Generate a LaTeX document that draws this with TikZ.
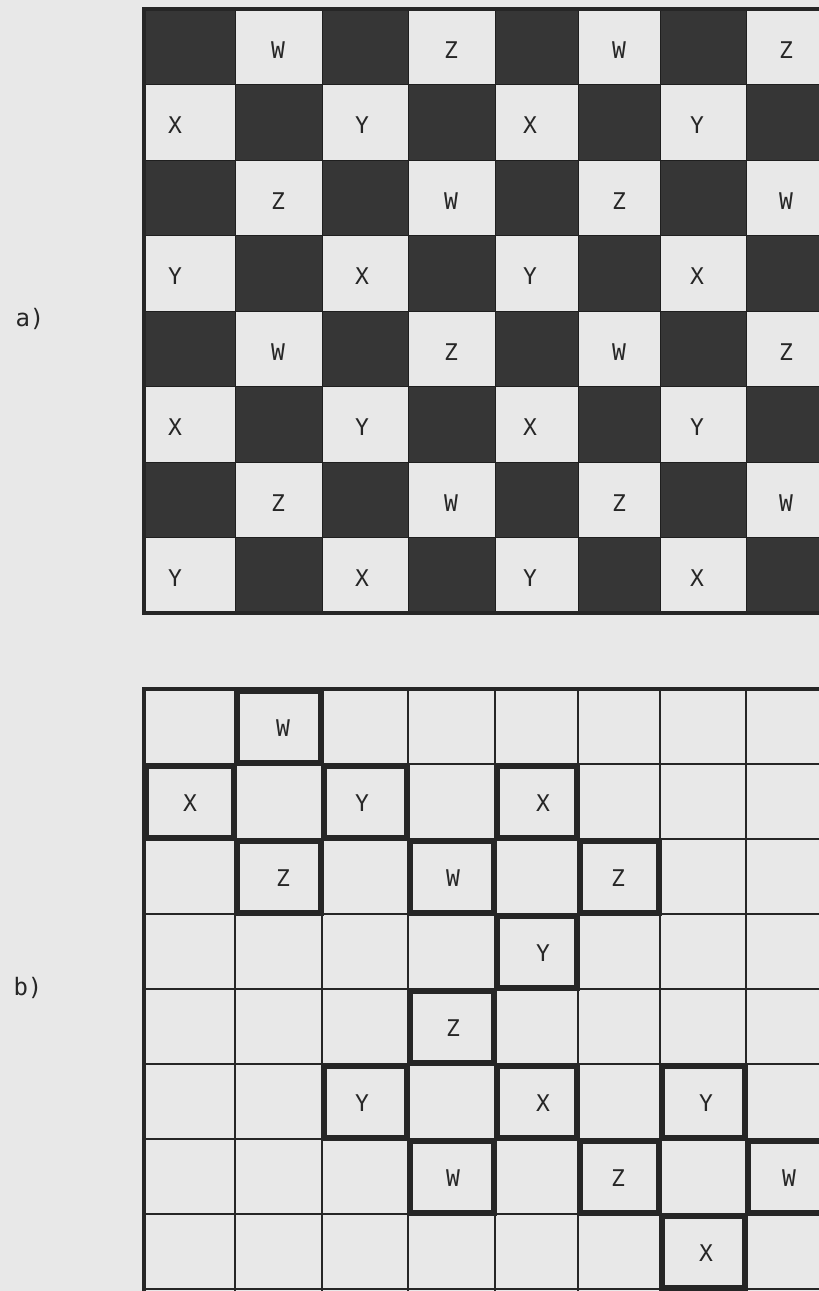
\documentclass[tikz,border=0pt]{standalone}
\usepackage{fontspec}
\newfontfamily\plotfont{DejaVu Sans Mono}
\begin{document}
\begin{tikzpicture}[x=1pt,y=-1pt,
  darkcell/.style={fill=black!79, draw=black!88, line width=1pt},
  letter/.style={font=\plotfont\fontsize{23}{23}\selectfont, text=black!85, inner sep=0pt},
  partlabel/.style={font=\plotfont\fontsize{24}{24}\selectfont, text=black!85, inner sep=0pt},
  gridline/.style={draw=black!85, line width=2.9pt},
  outerline/.style={draw=black!85, line width=3.4pt},
  keycell/.style={draw=black!85, line width=6pt}]
\fill[black!9] (0,0) rectangle (819,1291);
\useasboundingbox (0,0) rectangle (819,1291);
\clip (0,0) rectangle (819,1291);

% ---------- part a) ----------
\foreach \r in {0,...,7} {
  \foreach \c/\xl/\xr in {0/144/235,1/235/322,2/322/408,3/408/495,4/495/578,5/578/660,6/660/746,7/746/832} {
    \pgfmathtruncatemacro{\p}{mod(\r+\c,2)}
    \ifnum\p=0
      \fill[darkcell] (\xl,{9+75.5*\r}) rectangle (\xr,{9+75.5*(\r+1)});
    \fi
  }
}
\draw[outerline] (840,9) -- (144,9) -- (144,613) -- (840,613);

\foreach \r/\c/\t in {0/1/W,0/3/Z,0/5/W,0/7/Z,
                      1/0/X,1/2/Y,1/4/X,1/6/Y,
                      2/1/Z,2/3/W,2/5/Z,2/7/W,
                      3/0/Y,3/2/X,3/4/Y,3/6/X,
                      4/1/W,4/3/Z,4/5/W,4/7/Z,
                      5/0/X,5/2/Y,5/4/X,5/6/Y,
                      6/1/Z,6/3/W,6/5/Z,6/7/W,
                      7/0/Y,7/2/X,7/4/Y,7/6/X} {
  \pgfmathsetmacro{\lx}{{175,278,362,451,530,619,697,786}[\c]}
  \node[letter] (a-\r-\c) at (\lx,{9+75.5*(\r+0.5)+3}) {\t};
}
\node[partlabel] (la) at (30,319) {a)};

% ---------- part b) ----------
\foreach \x in {144,235,322,408,495,578,660,746} {
  \draw[gridline] (\x,689) -- (\x,1300);
}
\foreach \k in {1,...,7} {
  \draw[gridline] (144,{689+75*\k}) -- (840,{689+75*\k});
}
\draw[gridline] (144,1289) -- (840,1289);
\draw[outerline] (840,689) -- (144,689) -- (144,1300);

\foreach \r/\c/\t in {0/1/W,
                      1/0/X,1/2/Y,1/4/X,
                      2/1/Z,2/3/W,2/5/Z,
                      3/4/Y,
                      4/3/Z,
                      5/2/Y,5/4/X,5/6/Y,
                      6/3/W,6/5/Z,6/7/W,
                      7/6/X} {
  \pgfmathsetmacro{\xl}{{144,235,322,408,495,578,660,746,832}[\c]}
  \pgfmathsetmacro{\xr}{{144,235,322,408,495,578,660,746,832}[\c+1]}
  \pgfmathsetmacro{\lx}{{190,283,362,453,543,618,706,789}[\c]}
  \draw[keycell] ({\xl+1.5},{689+75*\r+1.5}) rectangle ({\xr-1.5},{689+75*(\r+1)-1.5});
  \node[letter] (b-\r-\c) at (\lx,{689+75*(\r+0.5)+2}) {\t};
}
\node[partlabel] (lb) at (28,988) {b)};
\end{tikzpicture}
\end{document}
